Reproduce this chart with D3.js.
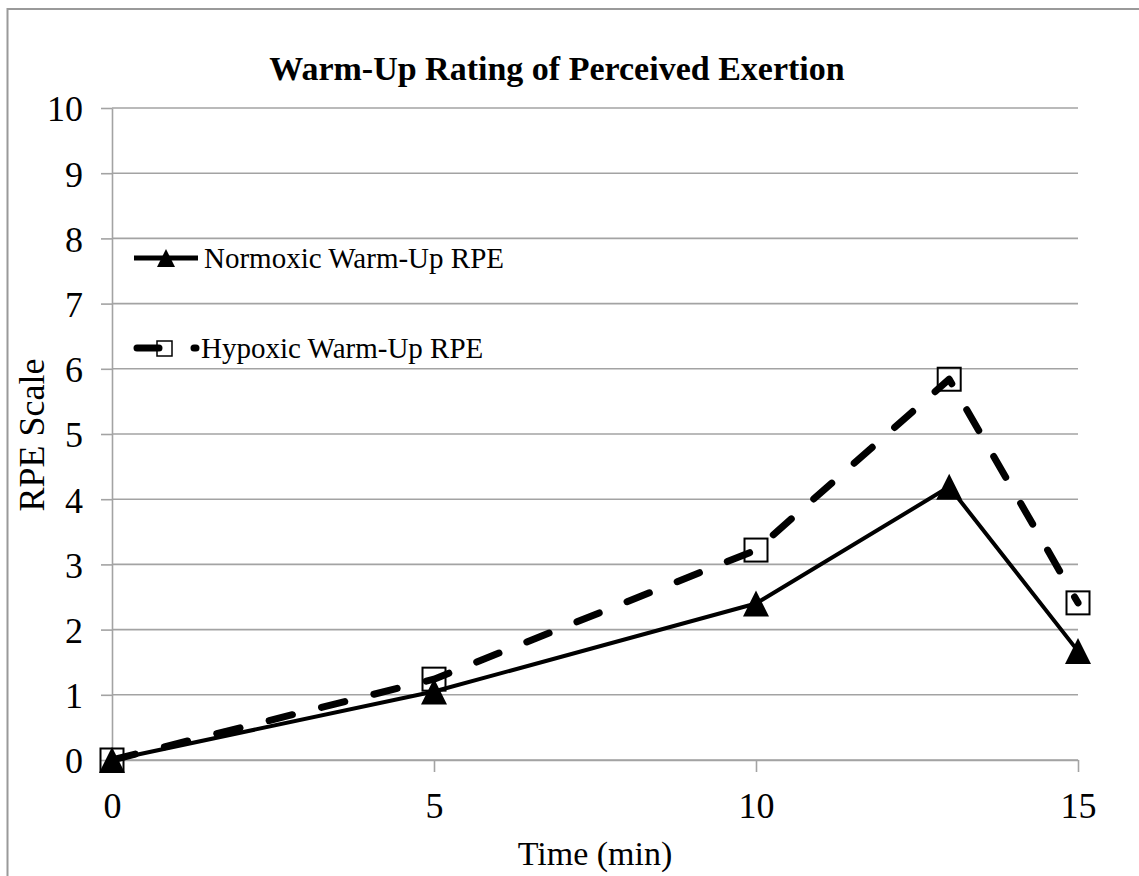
<!DOCTYPE html>
<html>
<head>
<meta charset="utf-8">
<script src="https://cdn.jsdelivr.net/npm/d3@7"></script>
<style>
  html, body { margin: 0; padding: 0; background: #fff; }
  svg { display: block; }
  text { font-family: "Liberation Serif", "Times New Roman", serif; fill: #000; }
</style>
</head>
<body>
<svg id="chart" width="1139" height="876"></svg>
<script>
// ---- data ----
const times = [0, 5, 10, 13, 15];
const normoxic = [0, 1.05, 2.40, 4.19, 1.67];
const hypoxic = [0, 1.24, 3.22, 5.84, 2.41];
const xTicks = [0, 5, 10, 15];
const yTicks = [0, 1, 2, 3, 4, 5, 6, 7, 8, 9, 10];
const seriesNames = ["Normoxic Warm-Up RPE", "Hypoxic Warm-Up RPE"];
const titleText = "Warm-Up Rating of Perceived Exertion";
const xLabel = "Time (min)";
const yLabel = "RPE Scale";

const svg = d3.select("#chart");
const gridColor = "#a3a3a3";

// outer frame
svg.append("rect")
  .attr("x", 7.5).attr("y", 9).attr("width", 1150).attr("height", 900)
  .attr("fill", "none").attr("stroke", "#9a9a9a").attr("stroke-width", 2);

const x = d3.scaleLinear().domain([0, 15]).range([112, 1078]);
const y = d3.scaleLinear().domain([0, 10]).range([760, 108]);

// gridlines
svg.append("g").selectAll("line").data(yTicks).join("line")
  .attr("x1", x(0)).attr("x2", x(15))
  .attr("y1", d => y(d)).attr("y2", d => y(d))
  .attr("stroke", gridColor).attr("stroke-width", 1.6);

// y axis
const yAxis = svg.append("g").attr("transform", `translate(${x(0)},0)`)
  .call(d3.axisLeft(y).tickValues(yTicks).tickSize(11).tickSizeOuter(0).tickPadding(18).tickFormat(d3.format("d")));
yAxis.select(".domain").attr("stroke", gridColor).attr("stroke-width", 1.6);
yAxis.selectAll(".tick line").attr("stroke", gridColor).attr("stroke-width", 1.6);
yAxis.selectAll(".tick text")
  .attr("font-family", '"Liberation Serif", "Times New Roman", serif')
  .attr("font-size", 36).attr("fill", "#000").attr("dy", "0.36em");

// x axis
const xAxis = svg.append("g").attr("transform", `translate(0,${y(0)})`)
  .call(d3.axisBottom(x).tickValues(xTicks).tickSize(12).tickSizeOuter(0).tickPadding(20).tickFormat(d3.format("d")));
xAxis.select(".domain").attr("stroke", gridColor).attr("stroke-width", 1.6);
xAxis.selectAll(".tick line").attr("stroke", gridColor).attr("stroke-width", 1.6);
xAxis.selectAll(".tick text")
  .attr("font-family", '"Liberation Serif", "Times New Roman", serif')
  .attr("font-size", 36).attr("fill", "#000").attr("dy", "0.71em");

// title and axis labels
svg.append("text").attr("x", 557).attr("y", 80).attr("text-anchor", "middle")
  .attr("font-size", 34).attr("font-weight", "bold").text(titleText);
svg.append("text").attr("x", 595).attr("y", 865).attr("text-anchor", "middle")
  .attr("font-size", 34).text(xLabel);
svg.append("text").attr("transform", "translate(44,435) rotate(-90)").attr("text-anchor", "middle")
  .attr("font-size", 36).text(yLabel);

const line = d3.line().x(d => x(d[0])).y(d => y(d[1]));
const hypPts = times.map((t, i) => [t, hypoxic[i]]);
const normPts = times.map((t, i) => [t, normoxic[i]]);

const triPath = (cx, cy, s) => `M${cx},${cy - s / 2}L${cx + s / 2},${cy + s / 2}L${cx - s / 2},${cy + s / 2}Z`;

// hypoxic series (dashed, hollow squares)
svg.append("path").datum(hypPts).attr("d", line)
  .attr("fill", "none").attr("stroke", "#000").attr("stroke-width", 7)
  .attr("stroke-linecap", "round").attr("stroke-linejoin", "round")
  .attr("stroke-dasharray", "24,30");
svg.append("g").selectAll("rect").data(hypPts).join("rect")
  .attr("x", d => x(d[0]) - 11.5).attr("y", d => y(d[1]) - 11.5)
  .attr("width", 23).attr("height", 23)
  .attr("fill", "none").attr("stroke", "#000").attr("stroke-width", 2);

// normoxic series (solid, filled triangles)
svg.append("path").datum(normPts).attr("d", line)
  .attr("fill", "none").attr("stroke", "#000").attr("stroke-width", 4)
  .attr("stroke-linejoin", "round");
svg.append("g").selectAll("path").data(normPts).join("path")
  .attr("d", d => triPath(x(d[0]), y(d[1]), 26))
  .attr("fill", "#000");

// legend
const lg = svg.append("g");
lg.append("line").attr("x1", 134).attr("x2", 198).attr("y1", 258).attr("y2", 258)
  .attr("stroke", "#000").attr("stroke-width", 5);
lg.append("path").attr("d", triPath(166, 258, 18)).attr("fill", "#000");
lg.append("text").attr("x", 204).attr("y", 268).attr("font-size", 29).text(seriesNames[0]);

lg.append("line").attr("x1", 137).attr("x2", 196).attr("y1", 348).attr("y2", 348)
  .attr("stroke", "#000").attr("stroke-width", 7).attr("stroke-linecap", "round")
  .attr("stroke-dasharray", "22,35");
lg.append("rect").attr("x", 157).attr("y", 341).attr("width", 15).attr("height", 15)
  .attr("fill", "none").attr("stroke", "#000").attr("stroke-width", 1.5);
lg.append("text").attr("x", 201).attr("y", 358).attr("font-size", 29).text(seriesNames[1]);
</script>
</body>
</html>
